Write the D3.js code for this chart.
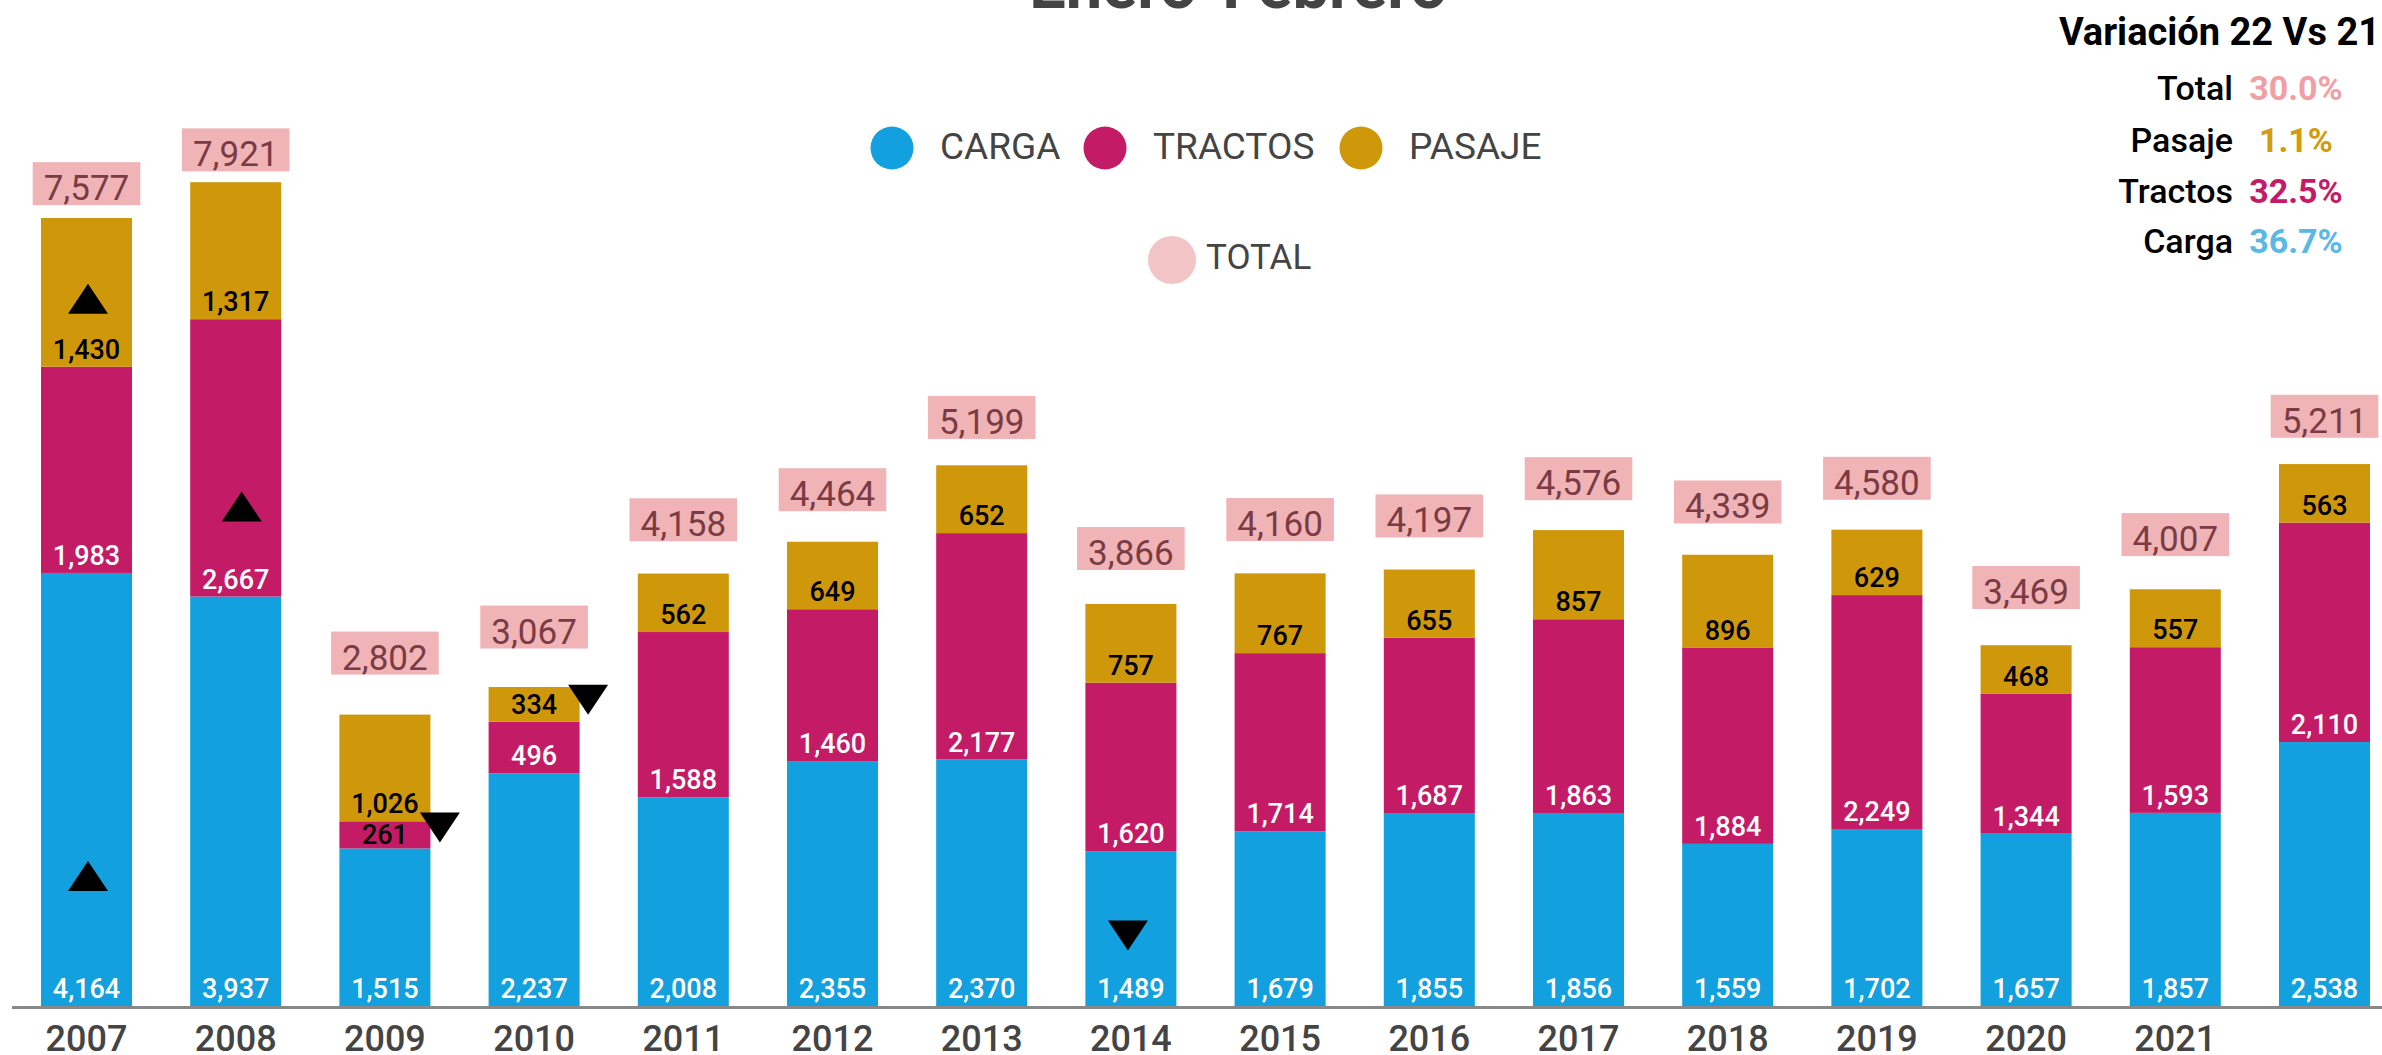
<!DOCTYPE html>
<html>
<head>
<meta charset="utf-8">
<script src="https://cdn.jsdelivr.net/npm/d3@7"></script>
<style>
  html, body { margin: 0; padding: 0; background: #fff; overflow: hidden; }
  text { font-family: Roboto, "Noto Sans", sans-serif; }
</style>
</head>
<body>
<script>
// data
var years = ['2007','2008','2009','2010','2011','2012','2013','2014','2015','2016','2017','2018','2019','2020','2021','2022'];
var tickLabels = ['2007','2008','2009','2010','2011','2012','2013','2014','2015','2016','2017','2018','2019','2020','2021',''];
var carga   = [4164, 3937, 1515, 2237, 2008, 2355, 2370, 1489, 1679, 1855, 1856, 1559, 1702, 1657, 1857, 2538];
var tractos = [1983, 2667,  261,  496, 1588, 1460, 2177, 1620, 1714, 1687, 1863, 1884, 2249, 1344, 1593, 2110];
var pasaje  = [1430, 1317, 1026,  334,  562,  649,  652,  757,  767,  655,  857,  896,  629,  468,  557,  563];
var totals  = [7577, 7921, 2802, 3067, 4158, 4464, 5199, 3866, 4160, 4197, 4576, 4339, 4580, 3469, 4007, 5211];

var varLabels = ['Total', 'Pasaje', 'Tractos', 'Carga'];
var varValues = ['30.0%', '1.1%', '32.5%', '36.7%'];

var seriesKeys = ['carga', 'tractos', 'pasaje'];
var seriesNames = ['CARGA', 'TRACTOS', 'PASAJE'];

var colors = {carga: '#12a0de', tractos: '#c41b67', pasaje: '#cf970a', total: '#f0b3b6'};
var varColors = ['#f0a0a4', '#d39c0c', '#c41b67', '#5ab8e6'];

// where the max / min triangles sit, relative to bar centre and segment bottom
var markerPos = {
    'carga-max':   {dx: 1.5,  dy: -130},
    'tractos-max': {dx: 6,    dy: -90},
    'pasaje-max':  {dx: 1.5,  dy: -68},
    'carga-min':   {dx: -3,   dy: -70.5},
    'tractos-min': {dx: 55,   dy: -21},
    'pasaje-min':  {dx: 54,   dy: -22}
};

var width = 2382, height = 1055;

var rows = years.map(function (y, i) {
    return {year: y, carga: carga[i], tractos: tractos[i], pasaje: pasaje[i], total: totals[i]};
});

var svg = d3.select('body').append('svg')
    .attr('width', width)
    .attr('height', height);

var x = d3.scaleBand()
    .domain(years)
    .range([41, 2370])
    .paddingInner(0.39)
    .paddingOuter(0);

var y = d3.scaleLinear().domain([0, 8000]).range([1006, 174]);
// the total labels hang on their own (slightly flatter) scale
var yTot = d3.scaleLinear().domain([0, 8000]).range([950, 163.6]);

var stack = d3.stack().keys(seriesKeys)(rows);

var fmt = d3.format(',');

// bars
var layers = svg.append('g').selectAll('g')
    .data(stack)
    .enter().append('g')
    .attr('fill', function (d) { return colors[d.key] });

layers.selectAll('rect')
    .data(function (d) { return d })
    .enter().append('rect')
    .attr('x', function (d) { return x(d.data.year) })
    .attr('width', x.bandwidth())
    .attr('y', function (d) { return y(d[1]) })
    .attr('height', function (d) { return y(d[0]) - y(d[1]) });

// segment labels
stack.forEach(function (layer) {
    svg.append('g').selectAll('text')
        .data(layer)
        .enter().append('text')
        .attr('x', function (d) { return x(d.data.year) + x.bandwidth() / 2 })
        .attr('y', function (d) { return y(d[0]) - (y(d[0]) - y(d[1]) < 30 ? 4 : 8) })
        .attr('text-anchor', 'middle')
        .style('font-size', '27px')
        .style('font-weight', 500)
        .style('fill', function (d) {
            if (layer.key == 'pasaje') return '#000';
            return (y(d[0]) - y(d[1]) < 30) ? '#000' : '#fff';
        })
        .text(function (d) { return fmt(d.data[layer.key]) });
});

// axis
var axis = svg.append('g')
    .attr('transform', 'translate(0,1006)')
    .call(d3.axisBottom(x).tickSize(0).tickFormat(function (d, i) { return tickLabels[i] }));
axis.select('.domain').remove();
axis.selectAll('text')
    .attr('y', 45)
    .attr('dy', 0)
    .style('font-size', '36px')
    .style('font-weight', 500)
    .style('font-family', 'Roboto')
    .style('fill', '#444');

svg.append('line')
    .attr('x1', 12).attr('x2', width)
    .attr('y1', 1007.5).attr('y2', 1007.5)
    .attr('stroke', '#888')
    .attr('stroke-width', 3);

// total labels with pink boxes
var tg = svg.append('g').selectAll('g')
    .data(rows)
    .enter().append('g');

tg.append('rect').attr('class', 'tbox').attr('fill', colors.total);
tg.append('text')
    .attr('x', function (d) { return x(d.year) + x.bandwidth() / 2 })
    .attr('y', function (d) { return yTot(d.total) - 5 })
    .attr('text-anchor', 'middle')
    .style('font-size', '35px')
    .style('fill', '#7a3b44')
    .text(function (d) { return fmt(d.total) });
tg.each(function (d) {
    var g = d3.select(this);
    var w = g.select('text').node().getComputedTextLength();
    var cx = x(d.year) + x.bandwidth() / 2;
    g.select('rect')
        .attr('x', cx - w / 2 - 11)
        .attr('width', w + 22)
        .attr('y', yTot(d.total) - 43)
        .attr('height', 43);
});

// max / min triangles
var markers = [];
stack.forEach(function (layer) {
    var vals = rows.map(function (r) { return r[layer.key] });
    [['max', d3.maxIndex(vals)], ['min', d3.minIndex(vals)]].forEach(function (m) {
        var seg = layer[m[1]];
        var p = markerPos[layer.key + '-' + m[0]];
        markers.push({
            type: m[0],
            cx: x(seg.data.year) + x.bandwidth() / 2 + p.dx,
            cy: y(seg[0]) + p.dy
        });
    });
});

svg.append('g').selectAll('path')
    .data(markers)
    .enter().append('path')
    .attr('fill', '#000')
    .attr('d', function (d) {
        var hw = 20, hh = 15;
        if (d.type == 'max') {
            return 'M' + d.cx + ',' + (d.cy - hh) + 'L' + (d.cx + hw) + ',' + (d.cy + hh) + 'L' + (d.cx - hw) + ',' + (d.cy + hh) + 'Z';
        }
        return 'M' + (d.cx - hw) + ',' + (d.cy - hh) + 'L' + (d.cx + hw) + ',' + (d.cy - hh) + 'L' + d.cx + ',' + (d.cy + hh) + 'Z';
    });

// title (mostly cut off at top, as in the source)
svg.append('text')
    .attr('x', 1238)
    .attr('y', 8)
    .attr('text-anchor', 'middle')
    .style('font-size', '65px')
    .style('font-weight', 700)
    .style('fill', '#444')
    .text('Enero-Febrero');

// legend
var legX = [892, 1105, 1361];
var leg = svg.append('g').selectAll('g')
    .data(seriesKeys)
    .enter().append('g');
leg.append('circle')
    .attr('cx', function (d, i) { return legX[i] })
    .attr('cy', 148)
    .attr('r', 21.5)
    .attr('fill', function (d) { return colors[d] });
leg.append('text')
    .attr('x', function (d, i) { return legX[i] + 48 })
    .attr('y', 159)
    .style('font-size', '37px')
    .style('fill', '#444')
    .text(function (d, i) { return seriesNames[i] });

svg.append('circle')
    .attr('cx', 1172).attr('cy', 260).attr('r', 24)
    .attr('fill', '#f2c4c6');
svg.append('text')
    .attr('x', 1206).attr('y', 269)
    .style('font-size', '35px')
    .style('fill', '#444')
    .text('TOTAL');

// variation block
svg.append('text')
    .attr('x', 2380).attr('y', 45)
    .attr('text-anchor', 'end')
    .style('font-size', '38px')
    .style('font-weight', 700)
    .style('fill', '#000')
    .text('Variación 22 Vs 21');

var rowY = [100, 152, 203, 253];
svg.append('g').selectAll('text')
    .data(varLabels)
    .enter().append('text')
    .attr('x', 2233)
    .attr('y', function (d, i) { return rowY[i] })
    .attr('text-anchor', 'end')
    .style('font-size', '34px')
    .style('font-weight', 500)
    .style('fill', '#000')
    .text(function (d) { return d });
svg.append('g').selectAll('text')
    .data(varValues)
    .enter().append('text')
    .attr('x', 2296)
    .attr('y', function (d, i) { return rowY[i] })
    .attr('text-anchor', 'middle')
    .style('font-size', '34px')
    .style('font-weight', 700)
    .style('fill', function (d, i) { return varColors[i] })
    .text(function (d) { return d });
</script>
</body>
</html>
